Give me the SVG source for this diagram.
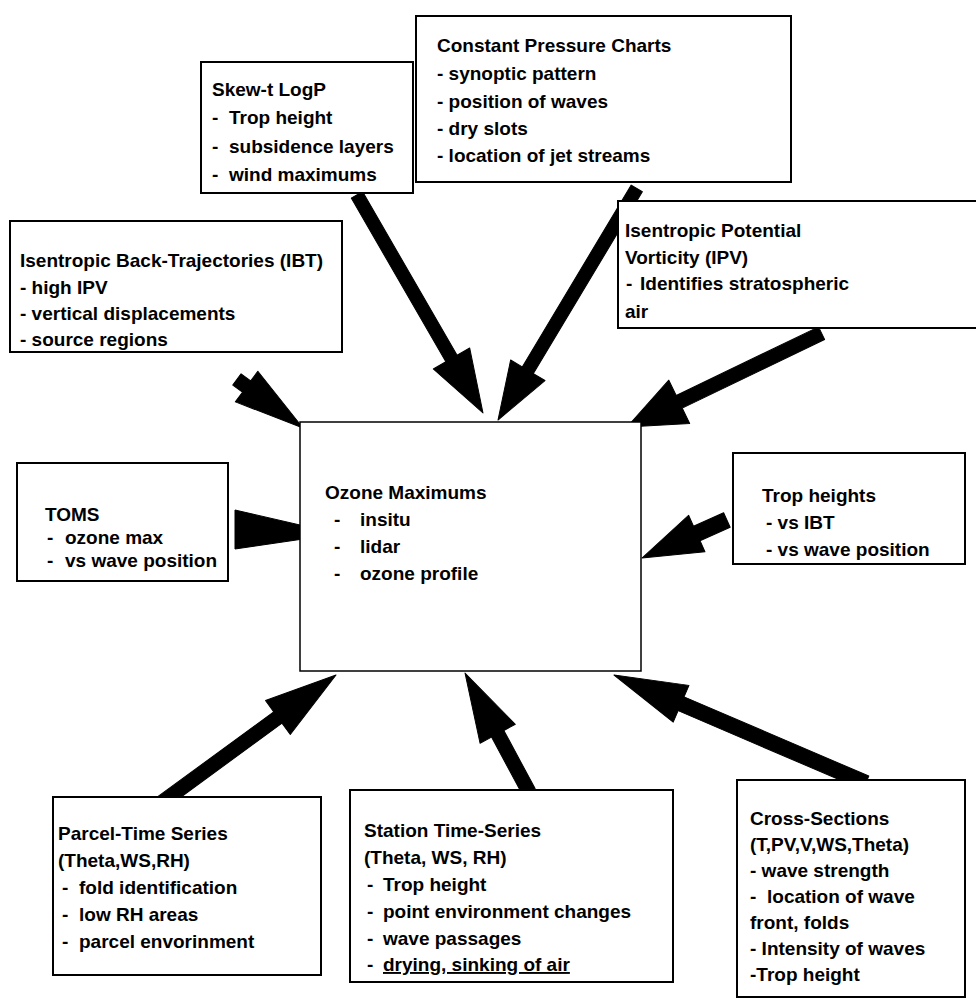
<svg xmlns="http://www.w3.org/2000/svg" xmlns:xlink="http://www.w3.org/1999/xlink" width="976" height="999" viewBox="0 0 976 999">
<style>
  .box { fill: #fff; stroke: #000; stroke-width: 2; }
  .thin { fill: #fff; stroke: #000; stroke-width: 1.5; }
  text { font-family: "Liberation Sans", Arial, sans-serif; font-weight: bold; font-size: 19px; fill: #000; }
  .arr { fill: #000; stroke: #000; stroke-width: 1; stroke-linejoin: round; }
</style>
<rect width="976" height="999" fill="#fff"/>

<g id="connectors">
  <g transform="translate(483,413) rotate(59.97)"><polygon class="arr" points="-252,-6.5 -63,-6.5 -63,-21 0,0 -63,21 -63,6.5 -252,6.5"/></g>
  <g transform="translate(498,420) rotate(120.93)"><polygon class="arr" points="-270,-6.5 -58,-6.5 -58,-20 0,0 -58,20 -58,6.5 -270,6.5"/></g>
  <g transform="translate(627,427) rotate(154.26)"><polygon class="arr" points="-216,-7 -58,-7 -58,-24 0,0 -58,24 -58,7 -216,7"/></g>
  <g transform="translate(303,428) rotate(36.3)"><polygon class="arr" points="-82,-7 -70,-7 -70,-19 0,0 -70,19 -70,7 -82,7"/></g>
  <polygon class="arr" points="235,510 300,525 310,527 310,538 235,549"/>
  <g transform="translate(642,558) rotate(155.9)"><polygon class="arr" points="-93,-8 -60,-8 -60,-20 0,0 -60,20 -60,8 -93,8"/></g>
  <g transform="translate(336,675) rotate(-36.18)"><polygon class="arr" points="-217,-7 -72,-7 -72,-21 0,0 -72,21 -72,7 -217,7"/></g>
  <g transform="translate(465,673) rotate(-118.27)"><polygon class="arr" points="-135,-7 -69,-7 -69,-20 0,0 -69,20 -69,7 -135,7"/></g>
  <g transform="translate(614,675) rotate(-156.8)"><polygon class="arr" points="-274,-7.5 -73,-7.5 -73,-20 0,0 -73,20 -73,7.5 -274,7.5"/></g>
</g>

<g id="skewt">
  <rect class="box" x="201" y="62" width="212" height="131"/>
  <text x="212" y="96">Skew-t LogP</text>
  <text y="124"><tspan x="212">-</tspan><tspan x="229">Trop height</tspan></text>
  <text y="153"><tspan x="212">-</tspan><tspan x="229">subsidence layers</tspan></text>
  <text y="181"><tspan x="212">-</tspan><tspan x="229">wind maximums</tspan></text>
</g>

<g id="cpc">
  <rect class="box" x="416" y="16" width="375" height="166"/>
  <text x="437" y="52">Constant Pressure Charts</text>
  <text x="437" y="80">- synoptic pattern</text>
  <text x="437" y="108">- position of waves</text>
  <text x="437" y="135">- dry slots</text>
  <text x="437" y="162">- location of jet streams</text>
</g>

<g id="ibt">
  <rect class="box" x="10" y="221" width="332" height="131"/>
  <text x="20" y="267">Isentropic Back-Trajectories (IBT)</text>
  <text x="20" y="294">- high IPV</text>
  <text x="20" y="320">- vertical displacements</text>
  <text x="20" y="346">- source regions</text>
</g>

<g id="ipv">
  <rect class="box" x="618" y="201" width="380" height="127"/>
  <text x="625" y="237">Isentropic Potential</text>
  <text x="625" y="264">Vorticity (IPV)</text>
  <text y="290"><tspan x="626">-</tspan><tspan x="640">Identifies stratospheric</tspan></text>
  <text x="625" y="318">air</text>
</g>

<g id="toms">
  <rect class="box" x="17" y="463" width="211" height="118"/>
  <text x="45" y="521">TOMS</text>
  <text y="544"><tspan x="47">-</tspan><tspan x="65">ozone max</tspan></text>
  <text y="567"><tspan x="47">-</tspan><tspan x="65">vs wave position</tspan></text>
</g>

<g id="ozone">
  <rect class="thin" x="300" y="422" width="341" height="249"/>
  <text x="325" y="499">Ozone Maximums</text>
  <text y="526"><tspan x="334">-</tspan><tspan x="360">insitu</tspan></text>
  <text y="553"><tspan x="334">-</tspan><tspan x="360">lidar</tspan></text>
  <text y="580"><tspan x="334">-</tspan><tspan x="360">ozone profile</tspan></text>
</g>

<g id="trop">
  <rect class="box" x="733" y="453" width="232" height="111"/>
  <text x="762" y="502">Trop heights</text>
  <text x="766" y="529">- vs IBT</text>
  <text x="766" y="556">- vs wave position</text>
</g>

<g id="parcel">
  <rect class="box" x="53" y="797" width="268" height="178"/>
  <text x="58" y="840">Parcel-Time Series</text>
  <text x="58" y="867">(Theta,WS,RH)</text>
  <text y="894"><tspan x="62">-</tspan><tspan x="79">fold identification</tspan></text>
  <text y="921"><tspan x="62">-</tspan><tspan x="79">low RH areas</tspan></text>
  <text y="948"><tspan x="62">-</tspan><tspan x="79">parcel envorinment</tspan></text>
</g>

<g id="station">
  <rect class="box" x="350" y="790" width="323" height="192"/>
  <text x="364" y="837">Station Time-Series</text>
  <text x="364" y="864">(Theta, WS, RH)</text>
  <text y="891"><tspan x="367">-</tspan><tspan x="383">Trop height</tspan></text>
  <text y="918"><tspan x="367">-</tspan><tspan x="383">point environment changes</tspan></text>
  <text y="945"><tspan x="367">-</tspan><tspan x="383">wave passages</tspan></text>
  <text y="971"><tspan x="367">-</tspan><tspan x="383" text-decoration="underline">drying, sinking of air</tspan></text>
</g>

<g id="cross">
  <rect class="box" x="737" y="780" width="228" height="217"/>
  <text x="750" y="825">Cross-Sections</text>
  <text x="750" y="851">(T,PV,V,WS,Theta)</text>
  <text x="750" y="877">- wave strength</text>
  <text y="903"><tspan x="750">-</tspan><tspan x="767">location of wave</tspan></text>
  <text x="750" y="929">front, folds</text>
  <text x="750" y="955">- Intensity of waves</text>
  <text x="750" y="981">-Trop height</text>
</g>
</svg>
